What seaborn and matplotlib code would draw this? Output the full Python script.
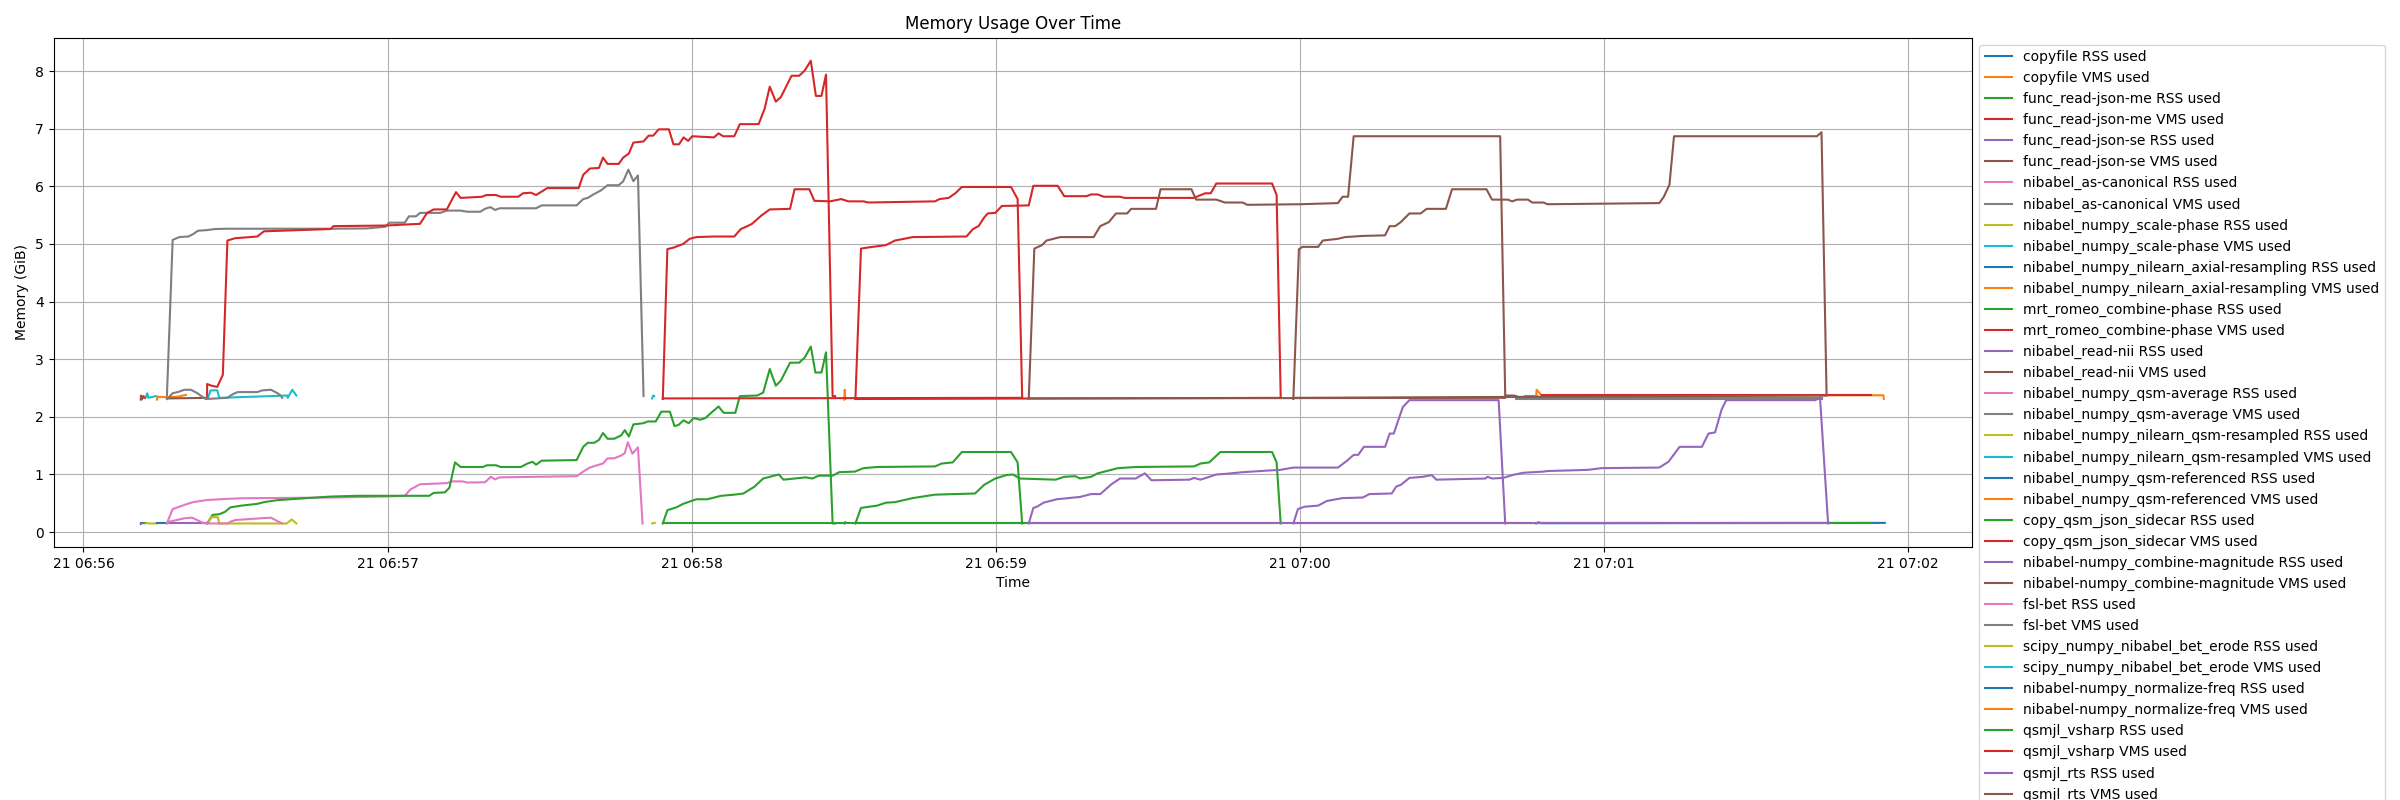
import matplotlib
matplotlib.use("Agg")
import matplotlib.pyplot as plt
import pandas as pd
import seaborn as sns

BASE = pd.Timestamp("2023-11-21 06:56:00")

processes = [
    "copyfile", "func_read-json-me", "func_read-json-se", "nibabel_as-canonical",
    "nibabel_numpy_scale-phase", "nibabel_numpy_nilearn_axial-resampling",
    "mrt_romeo_combine-phase", "nibabel_read-nii", "nibabel_numpy_qsm-average",
    "nibabel_numpy_nilearn_qsm-resampled", "nibabel_numpy_qsm-referenced",
    "copy_qsm_json_sidecar", "nibabel-numpy_combine-magnitude", "fsl-bet",
    "scipy_numpy_nibabel_bet_erode", "nibabel-numpy_normalize-freq",
    "qsmjl_vsharp", "qsmjl_rts",
]

# (seconds after 06:56:00, GiB) samples
copyfile_rss = [(11.4, 0.15), (11.9, 0.15)]
copyfile_vms = [(11.4, 2.32), (11.9, 2.33)]
jsonme_rss = [(11.5, 0.15), (12.2, 0.15)]
jsonme_vms = [(11.5, 2.31), (11.8, 2.36), (12.2, 2.33)]
jsonse_rss = [(11.3, 0.14), (11.5, 0.15)]
jsonse_vms = [(11.3, 2.30), (11.35, 2.37), (11.5, 2.31)]

canon_rss = [(16.45, 0.15), (17.6, 0.40), (18.9, 0.44), (20.2, 0.48), (21.6, 0.52), (24.2, 0.555),
             (27.7, 0.574), (31.2, 0.587), (48.8, 0.60), (59.4, 0.617), (63.4, 0.63), (64.5, 0.74),
             (66.4, 0.83), (71.7, 0.85), (72.6, 0.88), (74.8, 0.88), (75.7, 0.86), (79.2, 0.865),
             (80.4, 0.96), (81.2, 0.915), (82.1, 0.95), (89.3, 0.96), (97.3, 0.97), (98.6, 1.05),
             (99.9, 1.12), (101.7, 1.17), (102.5, 1.19), (103.4, 1.28), (104.7, 1.28), (106.1, 1.33),
             (106.8, 1.37), (107.4, 1.56), (108.3, 1.36), (109.4, 1.47), (110.3, 0.15)]
canon_vms = [(16.45, 2.32), (17.6, 5.07), (18.9, 5.12), (20.7, 5.13), (21.6, 5.17), (22.6, 5.23),
             (24.2, 5.24), (26.0, 5.26), (28.6, 5.265), (48.8, 5.265), (55.9, 5.27), (59.6, 5.30),
             (60.3, 5.37), (63.4, 5.37), (64.2, 5.48), (65.6, 5.48), (66.4, 5.54), (70.4, 5.54),
             (71.7, 5.58), (74.4, 5.58), (75.7, 5.56), (78.3, 5.56), (79.2, 5.61), (80.3, 5.64),
             (81.2, 5.59), (82.1, 5.62), (89.3, 5.62), (90.4, 5.67), (97.3, 5.67), (98.6, 5.78),
             (99.5, 5.80), (100.6, 5.86), (102.1, 5.93), (103.4, 6.02), (105.6, 6.02), (106.5, 6.09),
             (107.5, 6.29), (108.5, 6.09), (109.4, 6.19), (110.5, 2.36)]

scale_rss_1 = [(12.3, 0.15), (12.6, 0.16), (12.8, 0.15), (14.3, 0.15)]
scale_vms_1 = [(12.3, 2.35), (12.6, 2.41), (12.8, 2.33), (14.3, 2.36)]
scale_rss_2 = [(284.4, 0.15), (286.7, 0.15)]
scale_vms_2 = [(284.4, 2.37), (286.7, 2.37)]

axial_rss = [(14.5, 0.15), (15.2, 0.15), (16.0, 0.15)]
axial_vms = [(14.5, 2.30), (14.6, 2.35), (16.5, 2.34), (18.5, 2.35), (20.2, 2.38)]

romeo_rss = [(24.4, 0.15), (25.5, 0.30), (26.8, 0.31), (27.9, 0.35), (29.0, 0.43), (31.2, 0.46),
             (34.3, 0.49), (35.6, 0.52), (38.3, 0.555), (43.6, 0.587), (48.8, 0.617), (54.1, 0.63),
             (68.2, 0.63), (69.1, 0.68), (71.3, 0.69), (72.2, 0.77), (73.3, 1.21), (74.4, 1.13),
             (78.8, 1.13), (79.6, 1.16), (81.4, 1.16), (82.3, 1.13), (86.3, 1.13), (87.6, 1.19),
             (88.6, 1.22), (89.3, 1.17), (90.4, 1.24), (97.3, 1.25), (98.6, 1.48), (99.5, 1.55),
             (100.8, 1.55), (101.7, 1.60), (102.5, 1.72), (103.4, 1.62), (104.7, 1.62), (106.1, 1.68),
             (106.8, 1.77), (107.6, 1.66), (108.5, 1.87), (110.5, 1.89), (111.3, 1.92), (112.9, 1.92),
             (114.0, 2.09), (115.7, 2.09), (116.6, 1.84), (117.4, 1.86), (118.4, 1.94), (119.4, 1.89),
             (120.4, 1.98), (121.7, 1.95), (122.7, 1.98), (123.7, 2.06), (125.3, 2.18), (126.3, 2.07),
             (128.6, 2.07), (129.5, 2.36), (132.9, 2.37), (134.1, 2.42), (135.4, 2.83), (136.6, 2.54),
             (137.6, 2.63), (139.4, 2.94), (141.2, 2.94), (142.3, 3.03), (143.5, 3.22), (144.4, 2.77),
             (145.6, 2.77), (146.5, 3.12), (147.8, 0.15), (148.3, 0.15)]
romeo_vms = [(24.4, 2.32), (24.4, 2.57), (25.3, 2.54), (26.4, 2.52), (27.5, 2.73), (28.4, 5.06),
             (29.9, 5.10), (34.3, 5.13), (35.6, 5.22), (48.8, 5.26), (49.3, 5.31), (59.4, 5.32),
             (66.4, 5.35), (67.8, 5.54), (69.1, 5.60), (71.7, 5.60), (72.4, 5.72), (73.5, 5.90),
             (74.4, 5.80), (78.6, 5.82), (79.5, 5.85), (81.4, 5.85), (82.3, 5.82), (85.8, 5.82),
             (86.7, 5.88), (88.3, 5.89), (89.3, 5.85), (91.5, 5.97), (97.7, 5.97), (98.6, 6.20),
             (99.9, 6.31), (101.7, 6.32), (102.5, 6.50), (103.4, 6.39), (105.6, 6.39), (106.5, 6.50),
             (107.6, 6.57), (108.5, 6.76), (110.5, 6.78), (111.5, 6.88), (112.4, 6.88), (113.5, 6.99),
             (115.5, 6.99), (116.4, 6.73), (117.5, 6.73), (118.4, 6.85), (119.3, 6.79), (120.1, 6.87),
             (124.4, 6.85), (125.3, 6.92), (126.2, 6.87), (128.4, 6.87), (129.5, 7.08), (133.2, 7.08),
             (134.4, 7.35), (135.4, 7.73), (136.6, 7.47), (137.6, 7.55), (139.7, 7.92), (141.2, 7.92),
             (142.3, 8.01), (143.5, 8.18), (144.5, 7.57), (145.6, 7.57), (146.5, 7.94), (147.8, 2.36),
             (148.3, 2.36)]

readnii_rss = [(280.8, 0.15), (282.7, 0.15)]
readnii_vms = [(280.8, 2.37), (282.1, 2.37), (282.7, 2.36)]

qavg_rss = [(282.7, 0.15), (342.9, 0.15)]
qavg_vms_1 = [(282.7, 2.31), (342.9, 2.31)]
qavg_vms_2 = [(282.9, 2.335), (342.9, 2.335)]

qres_rss = [(24.5, 0.15), (25.3, 0.26), (26.5, 0.26), (26.8, 0.15), (40.1, 0.15), (41.1, 0.22), (42.0, 0.15)]
qres_vms = [(24.5, 2.32), (25.1, 2.46), (26.4, 2.46), (26.8, 2.33), (40.2, 2.37), (40.3, 2.33),
            (41.2, 2.47), (42.0, 2.37)]

qref_rss = [(286.6, 0.15), (287.0, 0.17), (287.7, 0.155), (355.4, 0.16)]
qref_vms = [(286.6, 2.37), (286.7, 2.47), (287.7, 2.37), (355.1, 2.375), (355.2, 2.31)]

sidecar_rss = [(287.7, 0.16), (352.7, 0.16)]
sidecar_vms = [(287.7, 2.375), (352.7, 2.375)]

cmag_rss = [(16.6, 0.15), (24.5, 0.15)]
cmag_vms = [(16.6, 2.32), (24.5, 2.33)]

bet_rss = [(16.5, 0.15), (16.9, 0.18), (18.4, 0.21), (19.9, 0.24), (21.4, 0.25), (22.4, 0.21),
           (23.9, 0.15), (28.5, 0.15), (29.0, 0.18), (30.0, 0.21), (35.0, 0.24), (37.0, 0.25),
           (38.5, 0.18), (39.2, 0.15)]
bet_vms = [(16.5, 2.31), (17.6, 2.41), (18.6, 2.43), (19.9, 2.47), (21.2, 2.47), (22.5, 2.41),
           (23.1, 2.37), (24.1, 2.31), (28.4, 2.33), (29.4, 2.39), (30.4, 2.43), (34.3, 2.43),
           (35.3, 2.46), (37.0, 2.47), (38.3, 2.41), (38.9, 2.37), (39.2, 2.33)]

erode_rss = [(112.2, 0.15), (112.7, 0.16)]
erode_vms = [(112.2, 2.32), (112.4, 2.37), (112.6, 2.36)]

norm_rss = [(150.1, 0.15), (150.3, 0.17)]
norm_vms = [(150.1, 2.30), (150.2, 2.47), (150.3, 2.31)]

vsharp_rss_1 = [(114.3, 0.15), (115.2, 0.38), (117.0, 0.43), (118.3, 0.49), (120.9, 0.57), (123.1, 0.57),
                (125.8, 0.63), (128.4, 0.65), (130.2, 0.67), (132.4, 0.79), (134.1, 0.93), (137.2, 1.0),
                (138.1, 0.91), (142.5, 0.95), (143.8, 0.93), (145.1, 0.98), (147.8, 0.98), (149.1, 1.04),
                (152.2, 1.05), (153.9, 1.11), (156.6, 1.13), (168.0, 1.14), (169.3, 1.19), (171.5, 1.21),
                (173.3, 1.39), (183.0, 1.39), (184.3, 1.21), (185.2, 0.15)]
vsharp_vms_1 = [(114.3, 2.31), (115.2, 4.91), (116.5, 4.94), (118.3, 5.0), (119.6, 5.09), (120.9, 5.12),
                (124.4, 5.13), (128.4, 5.13), (129.7, 5.26), (131.0, 5.31), (131.9, 5.35), (133.7, 5.49),
                (135.4, 5.60), (139.4, 5.61), (140.3, 5.95), (143.2, 5.95), (144.2, 5.75), (147.3, 5.74),
                (149.5, 5.78), (150.9, 5.74), (153.9, 5.74), (154.8, 5.72), (168.0, 5.74), (168.9, 5.78),
                (170.7, 5.80), (172.0, 5.88), (173.3, 5.99), (183.0, 5.99), (184.3, 5.78), (185.2, 2.34)]
vsharp_rss_2 = [(152.3, 0.15), (153.4, 0.42), (156.6, 0.46), (158.3, 0.51), (160.1, 0.52), (163.6, 0.59),
                (168.0, 0.65), (175.9, 0.67), (177.7, 0.82), (179.9, 0.93), (182.1, 0.99), (183.4, 1.0),
                (184.7, 0.93), (191.8, 0.91), (193.5, 0.96), (195.7, 0.97), (196.6, 0.93), (198.8, 0.96),
                (200.1, 1.02), (204.1, 1.11), (207.6, 1.13), (219.1, 1.14), (220.4, 1.19), (222.1, 1.21),
                (224.3, 1.39), (234.5, 1.39), (235.4, 1.21), (236.2, 0.15)]
vsharp_vms_2 = [(152.3, 2.31), (153.4, 4.92), (154.8, 4.94), (158.3, 4.98), (160.1, 5.06), (161.9, 5.09),
                (163.6, 5.12), (174.2, 5.13), (175.5, 5.26), (176.6, 5.31), (177.7, 5.46), (178.4, 5.53),
                (179.9, 5.54), (181.2, 5.66), (186.5, 5.67), (187.4, 6.01), (192.2, 6.01), (193.5, 5.83),
                (197.9, 5.83), (198.8, 5.86), (200.1, 5.86), (201.3, 5.82), (204.5, 5.82), (205.4, 5.80),
                (219.1, 5.80), (219.9, 5.83), (221.3, 5.88), (222.4, 5.88), (223.5, 6.05), (234.5, 6.05),
                (235.4, 5.85), (236.2, 2.36)]
vsharp_rss_w1 = [(114.3, 0.15), (185.2, 0.15)]
vsharp_vms_w1 = [(114.3, 2.32), (185.2, 2.33)]
vsharp_rss_w2 = [(152.3, 0.15), (236.2, 0.15)]
vsharp_vms_w2 = [(152.3, 2.31), (236.2, 2.33)]

rts_rss_1 = [(186.5, 0.15), (187.4, 0.42), (188.1, 0.44), (189.4, 0.51), (192.0, 0.57), (196.6, 0.61),
             (198.8, 0.66), (200.6, 0.66), (202.8, 0.83), (204.5, 0.93), (207.6, 0.93), (209.4, 1.02),
             (210.7, 0.90), (218.2, 0.91), (219.1, 0.94), (220.4, 0.91), (223.5, 1.0), (225.2, 1.01),
             (228.7, 1.04), (234.0, 1.07), (236.1, 1.08), (238.7, 1.12), (247.5, 1.12), (249.3, 1.24),
             (250.6, 1.34), (251.5, 1.34), (252.6, 1.48), (256.8, 1.48), (257.7, 1.71), (258.5, 1.71),
             (260.3, 2.17), (261.6, 2.29), (279.2, 2.29), (280.5, 0.15)]
rts_vms_1 = [(186.5, 2.32), (187.6, 4.92), (189.1, 4.98), (190.0, 5.06), (192.7, 5.12), (199.3, 5.12),
             (200.6, 5.31), (202.3, 5.38), (203.7, 5.53), (205.9, 5.53), (206.7, 5.61), (211.6, 5.61),
             (212.5, 5.95), (218.6, 5.95), (219.5, 5.77), (223.5, 5.77), (225.2, 5.72), (228.7, 5.72),
             (229.6, 5.68), (240.0, 5.69), (247.5, 5.71), (248.4, 5.82), (249.5, 5.82), (250.6, 6.87),
             (279.5, 6.87), (280.5, 2.38)]
rts_rss_2 = [(238.7, 0.15), (239.6, 0.40), (240.9, 0.44), (243.6, 0.46), (245.3, 0.54), (248.4, 0.59),
             (252.4, 0.60), (253.7, 0.66), (258.1, 0.67), (259.0, 0.79), (259.9, 0.82), (261.6, 0.94),
             (264.3, 0.96), (266.0, 0.99), (266.9, 0.91), (276.6, 0.93), (277.0, 0.96), (277.9, 0.93),
             (280.1, 0.94), (281.9, 0.99), (284.1, 1.03), (288.0, 1.05), (288.9, 1.06), (296.8, 1.08),
             (299.5, 1.11), (310.9, 1.12), (312.7, 1.22), (314.9, 1.48), (319.3, 1.48), (320.6, 1.71),
             (321.9, 1.73), (323.2, 2.13), (324.1, 2.29), (341.7, 2.29), (342.6, 2.34), (344.2, 0.15)]
rts_vms_2 = [(238.7, 2.31), (239.8, 4.91), (240.5, 4.95), (243.6, 4.95), (244.5, 5.06), (247.5, 5.09),
             (248.9, 5.12), (252.4, 5.14), (256.8, 5.15), (257.7, 5.31), (258.8, 5.31), (259.9, 5.38),
             (261.6, 5.53), (263.8, 5.53), (265.0, 5.61), (268.8, 5.61), (270.0, 5.95), (276.8, 5.95),
             (277.9, 5.77), (281.0, 5.77), (281.9, 5.74), (282.8, 5.77), (285.0, 5.77), (285.8, 5.72),
             (288.0, 5.72), (288.9, 5.69), (310.9, 5.71), (311.8, 5.82), (312.9, 6.03), (313.8, 6.87),
             (342.0, 6.87), (342.9, 6.94), (343.9, 2.38)]
rts_rss_w1 = [(186.5, 0.15), (280.5, 0.15)]
rts_vms_w1 = [(186.5, 2.32), (280.5, 2.33)]
rts_rss_w2 = [(238.7, 0.15), (344.2, 0.15)]
rts_vms_w2 = [(238.7, 2.33), (343.9, 2.37)]

series_runs = {
    "copyfile": ([copyfile_rss], [copyfile_vms]),
    "func_read-json-me": ([jsonme_rss], [jsonme_vms]),
    "func_read-json-se": ([jsonse_rss], [jsonse_vms]),
    "nibabel_as-canonical": ([canon_rss], [canon_vms]),
    "nibabel_numpy_scale-phase": ([scale_rss_1, scale_rss_2], [scale_vms_1, scale_vms_2]),
    "nibabel_numpy_nilearn_axial-resampling": ([axial_rss], [axial_vms]),
    "mrt_romeo_combine-phase": ([romeo_rss], [romeo_vms]),
    "nibabel_read-nii": ([readnii_rss], [readnii_vms]),
    "nibabel_numpy_qsm-average": ([qavg_rss], [qavg_vms_1, qavg_vms_2]),
    "nibabel_numpy_nilearn_qsm-resampled": ([qres_rss], [qres_vms]),
    "nibabel_numpy_qsm-referenced": ([qref_rss], [qref_vms]),
    "copy_qsm_json_sidecar": ([sidecar_rss], [sidecar_vms]),
    "nibabel-numpy_combine-magnitude": ([cmag_rss], [cmag_vms]),
    "fsl-bet": ([bet_rss], [bet_vms]),
    "scipy_numpy_nibabel_bet_erode": ([erode_rss], [erode_vms]),
    "nibabel-numpy_normalize-freq": ([norm_rss], [norm_vms]),
    "qsmjl_vsharp": ([vsharp_rss_1, vsharp_rss_2, vsharp_rss_w1, vsharp_rss_w2],
                     [vsharp_vms_1, vsharp_vms_2, vsharp_vms_w1, vsharp_vms_w2]),
    "qsmjl_rts": ([rts_rss_1, rts_rss_2, rts_rss_w1, rts_rss_w2],
                  [rts_vms_1, rts_vms_2, rts_vms_w1, rts_vms_w2]),
}

tab10 = sns.color_palette("tab10", 10)
labels = []
rows = []
for proc in processes:
    rss_runs, vms_runs = series_runs[proc]
    for kind, runs in (("RSS", rss_runs), ("VMS", vms_runs)):
        label = f"{proc} {kind} used"
        labels.append(label)
        for r, pairs in enumerate(runs):
            for t, v in pairs:
                rows.append({"label": label, "unit": f"{label}#{r}",
                             "time": BASE + pd.Timedelta(seconds=t), "mem": v})
df = pd.DataFrame(rows)
palette = {lab: tab10[i % 10] for i, lab in enumerate(labels)}

fig, ax = plt.subplots(figsize=(24, 8), dpi=100)
fig.subplots_adjust(left=0.0223, right=0.8217, top=0.953, bottom=0.316)
sns.lineplot(data=df, x="time", y="mem", hue="label", hue_order=labels, palette=palette,
             units="unit", estimator=None, sort=False, ax=ax, linewidth=1.5)
ax.set_title("Memory Usage Over Time")
ax.set_xlabel("Time")
ax.set_ylabel("Memory (GiB)")
ax.grid(True)
sns.move_legend(ax, "upper left", bbox_to_anchor=(1, 1), title=None)
fig.savefig("out.png", dpi=100)
